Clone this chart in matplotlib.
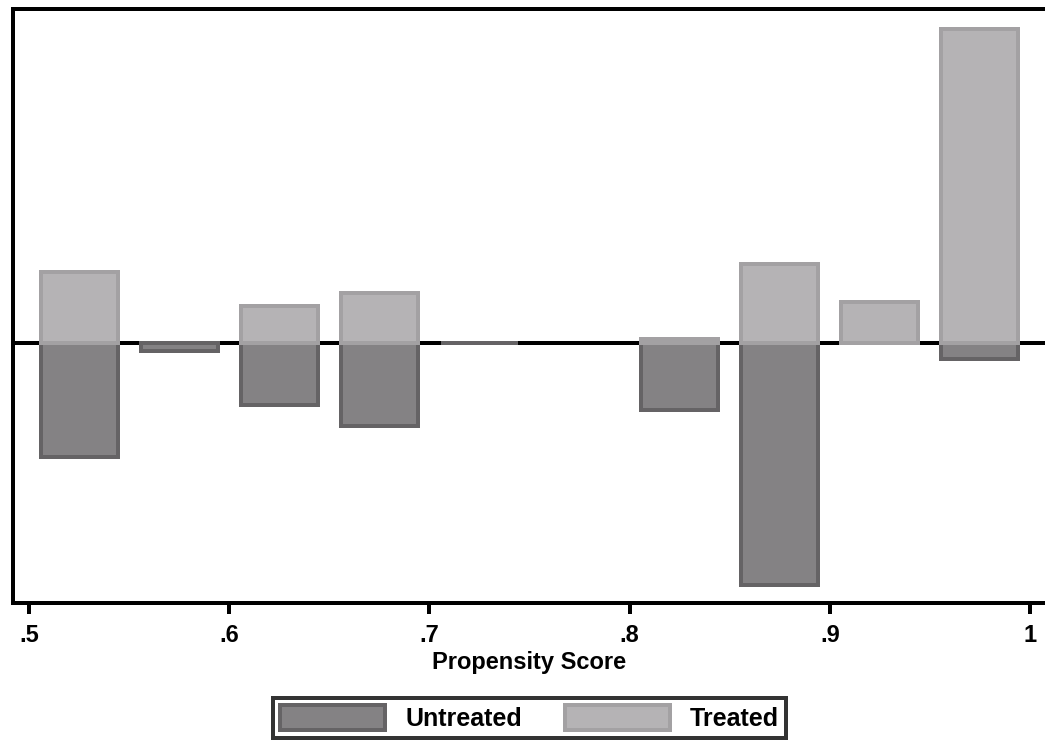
import matplotlib
matplotlib.use("Agg")
import matplotlib.pyplot as plt
from matplotlib.patches import Patch
import numpy as np

# Propensity score bins (bin centres) and the mirrored frequencies
bin_centres = [0.525, 0.575, 0.625, 0.675, 0.725, 0.775, 0.825, 0.875, 0.925, 0.975]
treated = [7.1, 0.0, 3.7, 5.0, 0.0, 0.0, 0.4, 7.9, 4.1, 31.4]
untreated = [11.4, 0.8, 6.2, 8.3, 0.0, None, 6.7, 24.2, 0.0, 1.6]
tick_values = [0.5, 0.6, 0.7, 0.8, 0.9, 1.0]
tick_labels = [".5", ".6", ".7", ".8", ".9", "1"]

UNT_FILL, UNT_EDGE = "#848284", "#656365"
TRT_FILL, TRT_EDGE = "#b5b3b5", "#a3a1a3"
PX = 72 / 100  # one pixel in points at dpi 100

plt.rcParams["font.family"] = ["Liberation Sans", "DejaVu Sans"]
plt.rcParams["font.weight"] = "bold"

fig = plt.figure(figsize=(10.45, 7.44), dpi=100)
ax = fig.add_axes([13 / 1045, 1 - 603 / 744, 1 - 13 / 1045, (603 - 9) / 744])

width = 0.0385
ax.axhline(0, color="black", lw=4 * PX, zorder=1)

# untreated below the axis
for x, u in zip(bin_centres, untreated):
    if u is None:
        continue
    ax.bar(x, -u, width=width, color=UNT_FILL, edgecolor=UNT_EDGE,
           linewidth=4 * PX, zorder=2)
# treated above the axis
for x, t in zip(bin_centres, treated):
    if t > 0:
        ax.bar(x, t, width=width, color=TRT_FILL, edgecolor=TRT_EDGE,
               linewidth=4 * PX, zorder=3)

ax.set_xlim(0.492, 1.0075)
ax.set_ylim(-26.0, 33.4)
ax.set_xticks(tick_values)
ax.set_xticklabels(tick_labels, fontsize=17, fontweight="bold")
ax.set_yticks([])
ax.tick_params(axis="x", direction="out", length=8, width=4 * PX, pad=7)
for side in ["left", "top", "bottom"]:
    ax.spines[side].set_linewidth(4 * PX)
ax.spines["right"].set_visible(False)
ax.set_xlabel("Propensity Score", fontsize=17, fontweight="bold", labelpad=3)

handles = [Patch(facecolor=UNT_FILL, edgecolor=UNT_EDGE, linewidth=4 * PX, label="Untreated"),
           Patch(facecolor=TRT_FILL, edgecolor=TRT_EDGE, linewidth=4 * PX, label="Treated")]
leg = fig.legend(handles=handles, loc="center", bbox_to_anchor=(529.5 / 1045, 1 - 718 / 744),
                 ncol=2, prop={"size": 18, "weight": "bold"}, frameon=True, fancybox=False,
                 edgecolor="black", handlelength=4.2, handleheight=1.15, handletextpad=0.8,
                 columnspacing=1.7, borderpad=0.3, borderaxespad=0)
leg.get_frame().set_linewidth(4 * PX)

fig.savefig("out.png", dpi=100, facecolor="white")
